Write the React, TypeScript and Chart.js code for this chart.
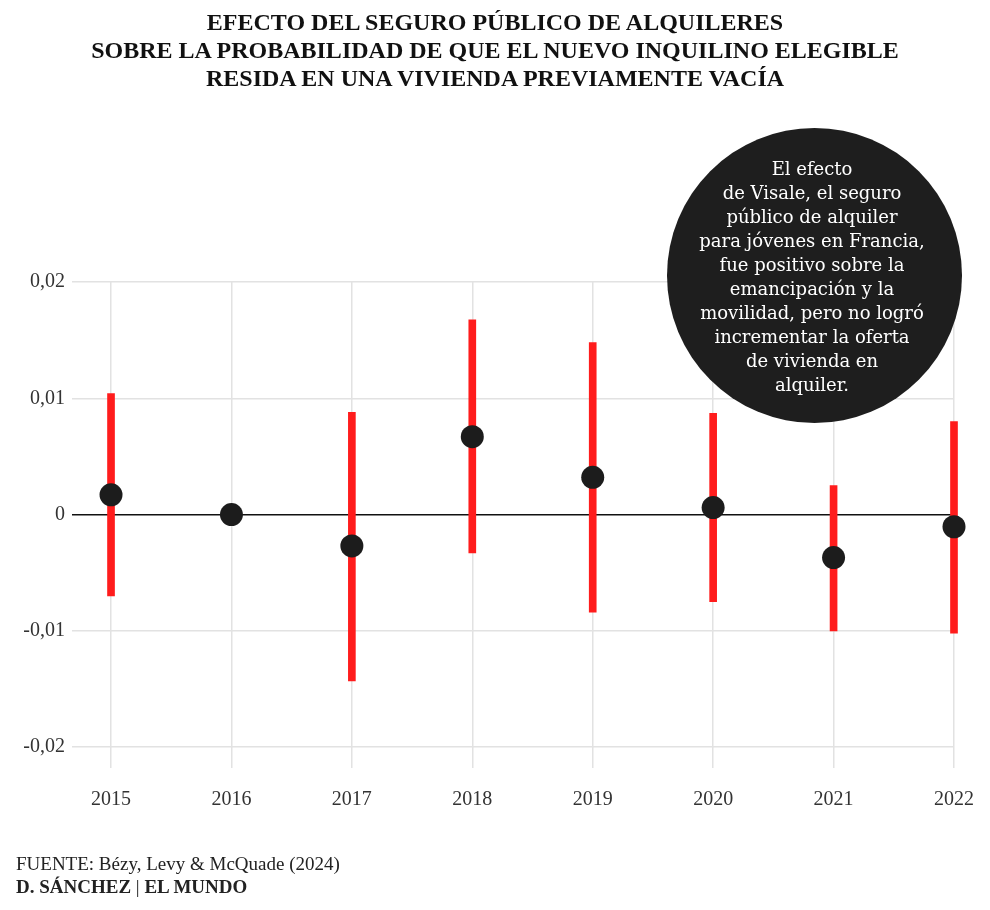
import React, { useEffect, useRef } from 'react';
import { Chart, registerables } from 'chart.js';

Chart.register(...registerables);

const years = [2015, 2016, 2017, 2018, 2019, 2020, 2021, 2022];
const estimates = [0.0017, 0, -0.0027, 0.0067, 0.0032, 0.0006, -0.0037, -0.00105];
const lower = [-0.007, null, -0.0143, -0.0033, -0.0084, -0.0075, -0.01, -0.0102];
const upper = [0.0104, null, 0.0088, 0.01675, 0.0148, 0.0087, 0.0025, 0.008];
const yTickValues = [-0.02, -0.01, 0, 0.01, 0.02];
const yTickLabels = ['-0,02', '-0,01', '0', '0,01', '0,02'];
const titleLines = [
  'EFECTO DEL SEGURO PÚBLICO DE ALQUILERES',
  'SOBRE LA PROBABILIDAD DE QUE EL NUEVO INQUILINO ELEGIBLE',
  'RESIDA EN UNA VIVIENDA PREVIAMENTE VACÍA',
];
const noteLines = [
  'El efecto',
  'de Visale, el seguro',
  'público de alquiler',
  'para jóvenes en Francia,',
  'fue positivo sobre la',
  'emancipación y la',
  'movilidad, pero no logró',
  'incrementar la oferta',
  'de vivienda en',
  'alquiler.',
];
const sourceLabel = 'FUENTE:';
const sourceText = 'Bézy, Levy & McQuade (2024)';
const creditAuthor = 'D. SÁNCHEZ';
const creditMedia = 'EL MUNDO';

const SERIF = '"Liberation Serif", "Times New Roman", serif';

export default function App() {
  const canvasRef = useRef<HTMLCanvasElement | null>(null);

  useEffect(() => {
    const canvas = canvasRef.current;
    if (!canvas) return;
    const barData = years
      .map((x, i) => (lower[i] == null ? null : { x, y: [lower[i], upper[i]] }))
      .filter((d) => d !== null);
    const pointData = years.map((x, i) => ({ x, y: estimates[i] }));

    const chart = new Chart(canvas, {
      type: 'bar',
      data: {
        datasets: [
          {
            type: 'scatter',
            data: pointData as any,
            pointRadius: 11.5,
            pointHoverRadius: 11.5,
            pointBackgroundColor: '#1c1c1c',
            pointBorderWidth: 0,
            borderWidth: 0,
            clip: false,
            order: 0,
          } as any,
          {
            type: 'bar',
            data: barData as any,
            backgroundColor: '#ff1c1c',
            borderWidth: 0,
            barThickness: 7,
            clip: false,
            order: 1,
          } as any,
        ],
      },
      options: {
        animation: false,
        responsive: false,
        devicePixelRatio: 1,
        layout: { padding: { top: 282, right: 36, bottom: 0, left: 0 } },
        plugins: {
          legend: { display: false },
          tooltip: { enabled: false },
          title: { display: false },
        },
        scales: {
          x: {
            type: 'linear',
            min: years[0] - 0.324,
            max: years[years.length - 1],
            offset: false,
            afterBuildTicks: (s: any) => {
              s.ticks = years.map((v) => ({ value: v }));
            },
            afterFit: (s: any) => {
              s.height = 142;
              s.paddingLeft = 0;
              s.paddingRight = 0;
            },
            grid: { color: '#e2e2e2', lineWidth: 1.5, drawTicks: false, offset: false },
            border: { display: false },
            ticks: {
              padding: 20,
              autoSkip: false,
              maxRotation: 0,
              color: '#333',
              font: { family: SERIF, size: 20 },
              callback: (v: any) => String(v),
            },
          },
          y: {
            type: 'linear',
            min: -0.0218,
            max: 0.02,
            afterBuildTicks: (s: any) => {
              s.ticks = yTickValues.map((v) => ({ value: v }));
            },
            afterFit: (s: any) => {
              s.width = 72;
              s.paddingTop = 0;
              s.paddingBottom = 0;
            },
            grid: {
              color: (ctx: any) => (ctx.tick && ctx.tick.value === 0 ? '#111' : '#e2e2e2'),
              lineWidth: 1.5,
              drawTicks: false,
            },
            border: { display: false },
            ticks: {
              padding: 7,
              color: '#333',
              font: { family: SERIF, size: 20 },
              callback: (v: any) => {
                const i = yTickValues.indexOf(v);
                return i >= 0 ? yTickLabels[i] : '';
              },
            },
          },
        },
      } as any,
    });
    return () => chart.destroy();
  }, []);

  return (
    <div style={{ position: 'absolute', left: 0, top: 0, width: 990, height: 910, background: '#fff', overflow: 'hidden' }}>
      <canvas ref={canvasRef} width={990} height={910} style={{ position: 'absolute', left: 0, top: 0 }} />
      <div
        style={{
          position: 'absolute',
          left: 0,
          top: 8,
          width: 990,
          textAlign: 'center',
          fontFamily: SERIF,
          fontWeight: 700,
          fontSize: 24,
          lineHeight: '28px',
          color: '#111',
        }}
      >
        {titleLines.map((l, i) => (
          <div key={i}>{l}</div>
        ))}
      </div>
      <div
        style={{
          position: 'absolute',
          left: 667,
          top: 128,
          width: 295,
          height: 295,
          borderRadius: '50%',
          background: '#1e1e1e',
        }}
      />
      <div
        style={{
          position: 'absolute',
          left: 662,
          top: 157,
          width: 300,
          textAlign: 'center',
          fontFamily: '"DejaVu Serif", serif',
          fontSize: 18,
          lineHeight: '24px',
          color: '#fff',
        }}
      >
        {noteLines.map((l, i) => (
          <div key={i}>{l}</div>
        ))}
      </div>
      <div
        style={{
          position: 'absolute',
          left: 16,
          top: 852,
          fontFamily: SERIF,
          fontSize: 19,
          lineHeight: '23px',
          color: '#222',
          whiteSpace: 'nowrap',
        }}
      >
        <div>
          {sourceLabel} {sourceText}
        </div>
        <div>
          <b>{creditAuthor}</b> | <b>{creditMedia}</b>
        </div>
      </div>
    </div>
  );
}
